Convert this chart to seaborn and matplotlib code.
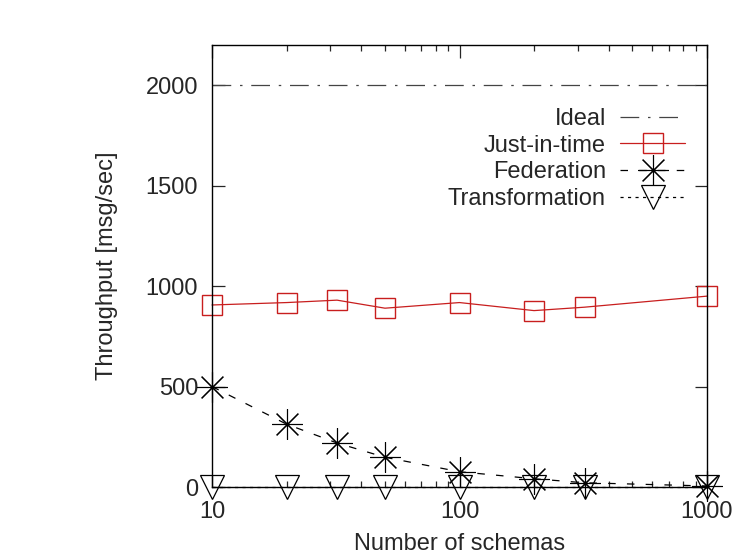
import numpy as np
import matplotlib
matplotlib.use('Agg')
import matplotlib.pyplot as plt
import seaborn as sns

schemas = [10, 20, 32, 50, 100, 200, 320, 1000]
just_in_time = [906, 918, 930, 890, 918, 878, 895, 950]
federation = [500, 313, 219, 148, 76, 41, 21, 5]
transformation = [0, 0, 0, 0, 0, 0, 0, 0]
ideal = 2000

sns.set_style('ticks')
plt.rcParams['font.family'] = ['Liberation Sans', 'DejaVu Sans']
fs = 17

fig = plt.figure(figsize=(7.33, 5.58), dpi=100)
ax = fig.add_axes([212/733, 1-487/558, (707-212)/733, (487-45)/558])

red = '#c81e1e'
ax.plot([10, 1000], [ideal, ideal], color='#444444', lw=0.9,
        dashes=(15, 7, 2, 7), label='Ideal')
sns.lineplot(x=schemas, y=just_in_time, ax=ax, color=red, lw=0.9,
             marker='s', markersize=15, markerfacecolor='none',
             markeredgecolor=red, markeredgewidth=1.0, clip_on=False,
             label='Just-in-time')
sns.lineplot(x=schemas, y=federation, ax=ax, color='black', lw=0.9,
             marker=(8, 2, 0), markersize=22, markeredgewidth=0.8,
             markeredgecolor='black', markerfacecolor='black',
             dashes=(6, 9), clip_on=False, label='Federation')
sns.lineplot(x=schemas, y=transformation, ax=ax, color='black', lw=0.9,
             marker='v', markersize=17, markerfacecolor='none',
             markeredgecolor='black', markeredgewidth=0.9,
             dashes=(2.5, 3.5), clip_on=False, label='Transformation')

ax.set_xscale('log')
ax.set_xlim(10, 1000)
ax.set_ylim(0, 2200)
ax.set_xticks([10, 100, 1000])
ax.set_xticklabels(['10', '100', '1000'])
ax.set_yticks([0, 500, 1000, 1500, 2000])
ax.tick_params(axis='both', which='major', direction='in', length=9,
               width=0.9, top=True, right=True, labelsize=fs, pad=10)
ax.tick_params(axis='x', which='minor', direction='in', length=4,
               width=0.9, top=True, bottom=True)
for s in ax.spines.values():
    s.set_visible(True)
    s.set_linewidth(1.0)
    s.set_color('black')

ax.set_xlabel('Number of schemas', fontsize=fs, labelpad=7)
ax.set_ylabel('Throughput [msg/sec]', fontsize=fs, labelpad=20)

ax.legend(loc='upper right', bbox_to_anchor=(685/733, 1-108/558),
          bbox_transform=fig.transFigure, frameon=False, markerfirst=False,
          borderpad=0, borderaxespad=0, handlelength=2.75,
          handletextpad=0.6, labelspacing=0.2, fontsize=fs)

fig.savefig('out.png', dpi=100)
